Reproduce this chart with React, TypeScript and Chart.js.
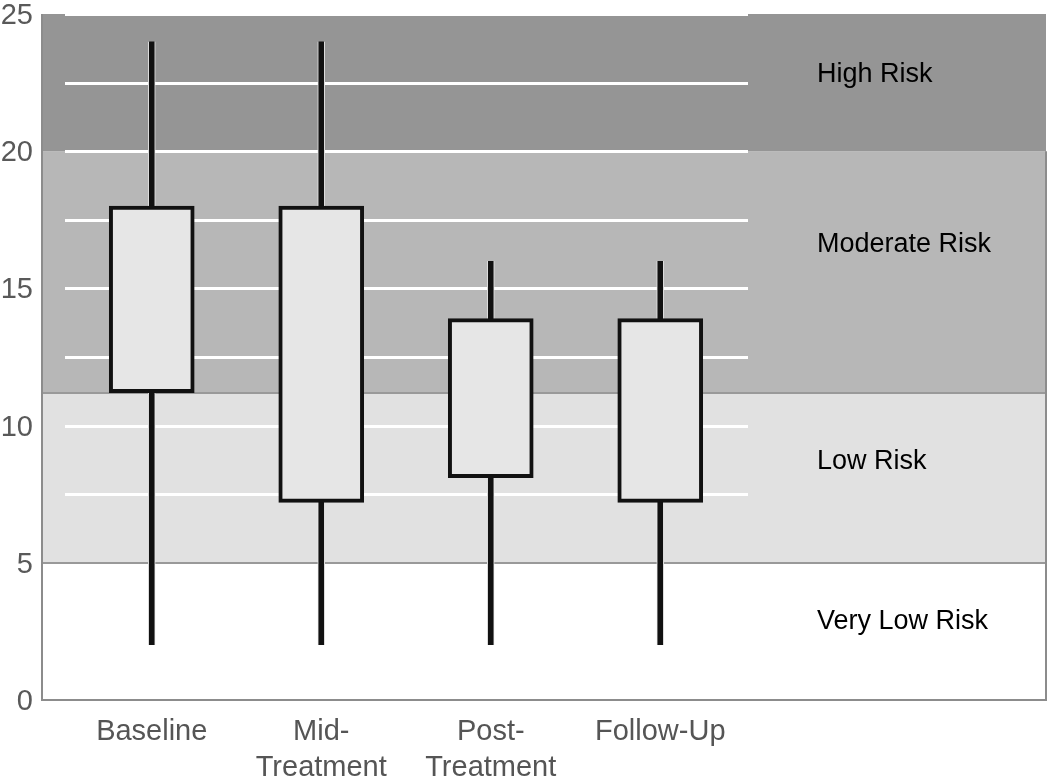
import React, { useEffect, useRef } from 'react';
import { Chart, registerables } from 'chart.js';

Chart.register(...registerables);

const categories: (string | string[])[] = ['Baseline', ['Mid-', 'Treatment'], ['Post-', 'Treatment'], 'Follow-Up'];
const whiskerMin = [2, 2, 2, 2];
const whiskerMax = [24, 24, 16, 16];
const q1 = [11.2, 7.2, 8.1, 7.2];
const q3 = [18, 18, 13.9, 13.9];

const bandNames = ['Very Low Risk', 'Low Risk', 'Moderate Risk', 'High Risk'];
const bandFrom = [0, 5, 11.2, 20];
const bandTo = [5, 11.2, 20, 25];
const bandLabelAt = [2.85, 8.7, 16.6, 22.8];
const bandColors = ['#ffffff', '#e1e1e1', '#b7b7b7', '#959595'];
const bandEdgeLine = [false, true, true, false];

const FONT = '"Liberation Sans", Arial, sans-serif';

const bandsPlugin = {
  id: 'bands',
  beforeDatasetsDraw(chart: any) {
    const { ctx, chartArea, scales } = chart;
    const y = scales.y;
    const axisX = chartArea.left - 25;
    const rightX = chart.width - 4;
    ctx.save();
    bandFrom.forEach((f, i) => {
      const yTop = y.getPixelForValue(bandTo[i]);
      const yBot = y.getPixelForValue(f);
      ctx.fillStyle = bandColors[i];
      ctx.fillRect(axisX, yTop, rightX - axisX, yBot - yTop);
    });
    ctx.strokeStyle = '#ffffff';
    ctx.lineWidth = 3;
    y.ticks.forEach((t: any) => {
      if (t.value <= 0) return;
      const py = Math.round(y.getPixelForValue(t.value)) + 0.5;
      ctx.beginPath();
      ctx.moveTo(chartArea.left - 2, py);
      ctx.lineTo(chartArea.right + 3, py);
      ctx.stroke();
    });
    ctx.strokeStyle = '#999999';
    ctx.lineWidth = 2;
    bandFrom.forEach((f, i) => {
      if (!bandEdgeLine[i]) return;
      const py = Math.round(y.getPixelForValue(f));
      ctx.beginPath();
      ctx.moveTo(axisX, py);
      ctx.lineTo(rightX, py);
      ctx.stroke();
    });
    const y0 = Math.round(y.getPixelForValue(0));
    const yTopAll = y.getPixelForValue(25);
    const y20 = y.getPixelForValue(20);
    ctx.strokeStyle = '#8c8c8c';
    ctx.lineWidth = 2;
    ctx.beginPath();
    ctx.moveTo(axisX, yTopAll);
    ctx.lineTo(axisX, y0);
    ctx.lineTo(rightX, y0);
    ctx.lineTo(rightX, y20);
    ctx.stroke();
    ctx.fillStyle = '#000000';
    ctx.font = `27px ${FONT}`;
    ctx.textAlign = 'left';
    ctx.textBaseline = 'middle';
    bandNames.forEach((n, i) => {
      ctx.fillText(n, 817, y.getPixelForValue(bandLabelAt[i]));
    });
    ctx.restore();
  },
};

export default function App() {
  const ref = useRef<HTMLCanvasElement>(null);
  useEffect(() => {
    if (!ref.current) return;
    const chart = new Chart(ref.current, {
      type: 'bar',
      data: {
        labels: categories as any,
        datasets: [
          {
            data: q1.map((v, i) => [v, q3[i]]) as any,
            backgroundColor: '#e6e6e6',
            borderColor: '#111111',
            borderWidth: 4,
            borderSkipped: false,
            barThickness: 85,
            grouped: false,
            order: 1,
          } as any,
          {
            data: whiskerMin.map((v, i) => [v, whiskerMax[i]]) as any,
            backgroundColor: '#111111',
            borderColor: '#eeeeee',
            borderWidth: { left: 1, right: 1, top: 0, bottom: 0 },
            borderSkipped: false,
            barThickness: 7,
            grouped: false,
            order: 2,
          } as any,
        ],
      },
      options: {
        responsive: false,
        devicePixelRatio: 1,
        animation: false,
        layout: { padding: { top: 14, right: 305, left: 0, bottom: 0 } },
        plugins: { legend: { display: false }, tooltip: { enabled: false } },
        scales: {
          x: {
            grid: { display: false, drawTicks: false },
            border: { display: false },
            ticks: {
              color: '#555555',
              font: { family: FONT, size: 29, lineHeight: 1.25 },
              padding: 14,
              maxRotation: 0,
              autoSkip: false,
            },
            afterFit: (s: any) => {
              s.height = 77;
              s.paddingLeft = 0;
              s.paddingRight = 0;
            },
          },
          y: {
            min: 0,
            max: 25,
            grid: { display: false, drawTicks: false },
            border: { display: false },
            ticks: {
              stepSize: 2.5,
              color: '#595959',
              font: { family: FONT, size: 29 },
              padding: 34,
              labelOffset: 2,
              callback: (v: any) => (Number(v) % 5 === 0 ? String(v) : ''),
            },
            afterFit: (s: any) => {
              s.width = 67;
              s.paddingTop = 0;
              s.paddingBottom = 0;
            },
          },
        },
      },
      plugins: [bandsPlugin],
    });
    return () => chart.destroy();
  }, []);
  return (
    <div style={{ position: 'absolute', left: 0, top: 0, width: 1050, height: 777, background: '#ffffff' }}>
      <canvas ref={ref} width={1050} height={777} style={{ display: 'block' }} />
    </div>
  );
}
